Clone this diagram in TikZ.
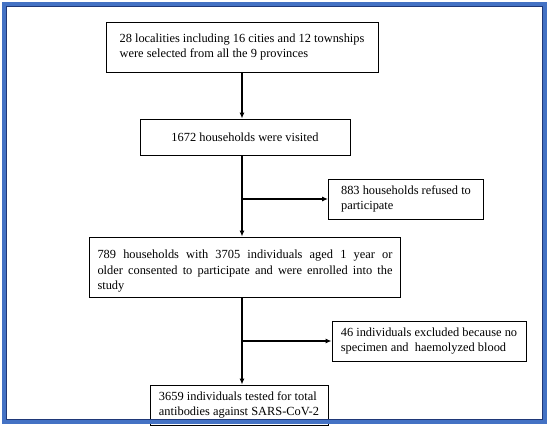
\documentclass[tikz,border=0pt]{standalone}
\usepackage{fontspec}
\setmainfont{Liberation Serif}
\definecolor{FrameBlue}{RGB}{68,114,196}
\definecolor{FrameDark}{RGB}{31,56,120}
\usetikzlibrary{arrows.meta}

\begin{document}
\begin{tikzpicture}[x=1pt,y=-1pt,
      box/.style={draw=black,line width=0.9pt,fill=white,inner xsep=5pt,inner ysep=3pt,
                  font=\fontsize{12.4}{15.5}\selectfont,align=left},
      arrow/.style={-{Latex[length=6pt,width=5pt]},line width=1.1pt}]
    \useasboundingbox (0,0) rectangle (550,428);
    \node[box,minimum width=272pt,minimum height=50pt] (sites) at (242,47)
      {28 localities including 16 cities and 12 townships\\were selected from all the 9 provinces};
    \node[box,minimum width=210pt,minimum height=36pt,align=center] (visited) at (245,137)
      {1672 households were visited};
    \node[box,minimum width=155pt,minimum height=40pt] (refused) at (406,199)
      {883 households refused to\\participate};
    \node[box,minimum width=311pt,minimum height=60pt,inner xsep=8pt,text width=295pt,align=justify] (enrolled) at (245,267)
      {\hyphenpenalty=10000 \rule{0pt}{17pt}789 households with 3705 individuals aged 1 year or\linebreak
       older consented to participate and were enrolled into the\linebreak study};
    \node[box,minimum width=194pt,minimum height=40pt] (excluded) at (429,341)
      {46 individuals excluded because no\\specimen and\ \ haemolyzed blood};
    \node[box,minimum width=178pt,minimum height=40pt] (tested) at (239,405)
      {3659 individuals tested for total\\antibodies against SARS-CoV-2};
    \coordinate (split1) at (sites.south |- refused.west);
    \coordinate (split2) at (sites.south |- excluded.west);
    \draw[arrow] (sites.south) -- (sites.south |- visited.north);
    \draw[arrow] (sites.south |- visited.south) -- (sites.south |- enrolled.north);
    \draw[arrow] (split1) -- (refused.west);
    \draw[arrow] (sites.south |- enrolled.south) -- (sites.south |- tested.north);
    \draw[arrow] (split2) -- (excluded.west);
    % frame
    \draw[FrameBlue,line width=3.5pt] (4,4) rectangle (545,422);
    \draw[FrameDark,line width=0.6pt] (6.5,6.5) rectangle (542.5,419.5);
  \end{tikzpicture}
\end{document}
